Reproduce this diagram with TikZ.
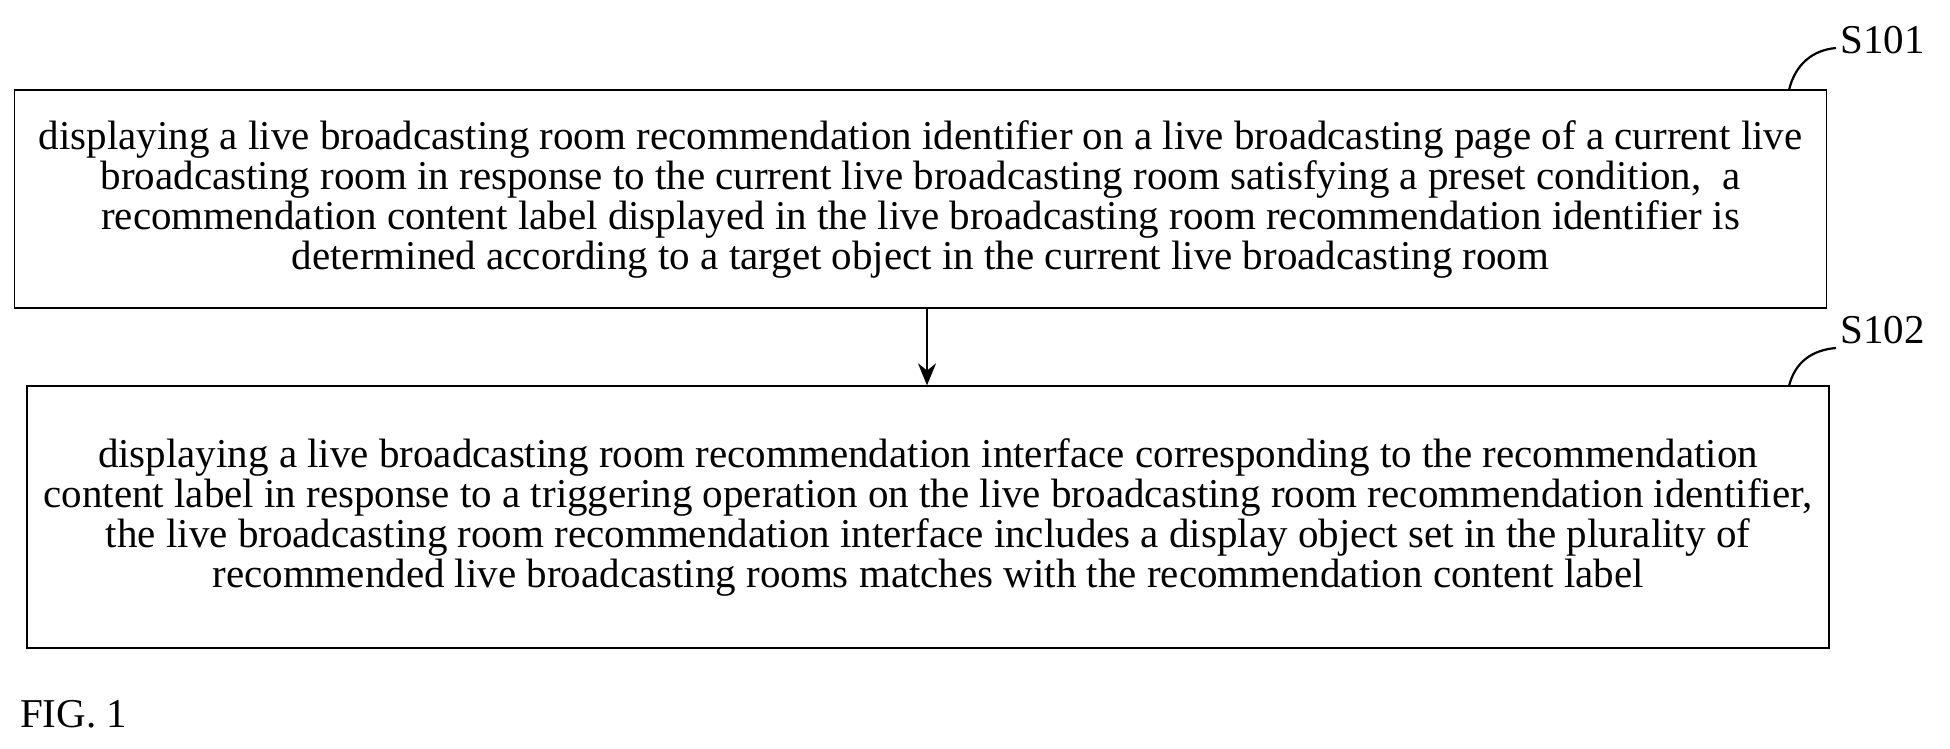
\documentclass[tikz,border=0pt]{standalone}
\usepackage{fontspec}
\setmainfont{Liberation Serif}
\usetikzlibrary{arrows.meta}
\begin{document}
\begin{tikzpicture}[x=1pt,y=-1pt,
  box/.style={draw,line width=1.3pt,minimum width=1812pt,align=center,font=\fontsize{41}{40}\selectfont,inner sep=0pt},
  lab/.style={font=\fontsize{41}{40}\selectfont,anchor=west,inner sep=0pt}]
\useasboundingbox (0,0) rectangle (1950,748);
\node[box,minimum height=218pt] (b1) at (920.5,199) {displaying a live broadcasting room recommendation identifier on a live broadcasting page of a current live\\broadcasting room in response to the current live broadcasting room satisfying a preset condition,~ a\\recommendation content label displayed in the live broadcasting room recommendation identifier is\\determined according to a target object in the current live broadcasting room};
\node[box,minimum width=1802pt,minimum height=262pt] (b2) at (928,517) {displaying a live broadcasting room recommendation interface corresponding to the recommendation\\content label in response to a triggering operation on the live broadcasting room recommendation identifier,\\the live broadcasting room recommendation interface includes a display object set in the plurality of\\recommended live broadcasting rooms matches with the recommendation content label};
\draw[line width=2pt,-{Stealth[length=22pt,width=18pt]}] (b1.south -| 927,0) -- (b2.north -| 927,0);
\node[lab] (s1) at (1840,40) {S101};
\node[lab] (s2) at (1840,330) {S102};
\draw[line width=2.2pt] (1789,90) .. controls (1795,65) and (1812,50) .. (1836,48);
\draw[line width=2.2pt] (1789,386) .. controls (1795,362) and (1812,350) .. (1836,348);
\node[lab] (fig) at (20,714) {FIG. 1};
\end{tikzpicture}
\end{document}
